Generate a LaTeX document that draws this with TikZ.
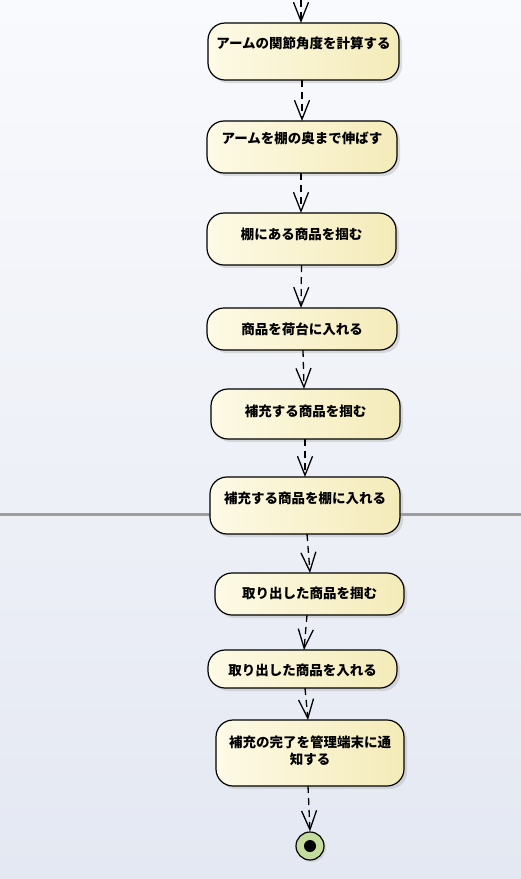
\documentclass[tikz,border=0pt]{standalone}
\usepackage{fontspec}
\setmainfont{Noto Sans CJK JP}
\usetikzlibrary{arrows.meta,shadows}
\definecolor{bgtop}{HTML}{F9FAFD}
\definecolor{bgbot}{HTML}{E4E8F2}
\definecolor{boxl}{HTML}{FDFAE6}
\definecolor{boxr}{HTML}{F4EBB9}
\definecolor{endfill}{HTML}{C4DD9C}
\tikzset{
  actbox/.style={draw=black, line width=1.2pt, rounded corners=17pt,
    left color=boxl, right color=boxr, inner sep=0pt, outer sep=0pt,
    drop shadow={shadow xshift=3pt, shadow yshift=-3pt, fill=black!35, opacity=0.35}},
  acttext/.style={font=\fontsize{13.5}{17.5}\selectfont\bfseries, align=center,
    inner sep=0pt, text=black},
  flow/.style={draw=black, line width=1.3pt, dash pattern=on 7pt off 5pt,
    -{Straight Barb[length=19pt,width=15pt,line width=1.3pt]}},
  partline/.style={draw=black!38, line width=3pt},
}
% box: name, left, top, right, bottom, text y, text
\newcommand{\actnode}[7]{%
  \pgfmathsetmacro{\bw}{#4-#2}\pgfmathsetmacro{\bh}{#5-#3}%
  \node[actbox, minimum width=\bw pt, minimum height=\bh pt] (#1)
    at ({(#2+#4)/2},{(#3+#5)/2}) {};
  \node[acttext] (#1-t) at ({(#2+#4)/2},#6) {#7};}
\begin{document}
\begin{tikzpicture}[x=1pt,y=-1pt]
  \useasboundingbox (0,0) rectangle (521,879);
  \shade[top color=bgtop, bottom color=bgbot] (0,0) rectangle (521,879);
  \coordinate (pl) at (0,514);
  \coordinate (pr) at (521,514);
  \draw[partline] (pl) -- (pr);

  \actnode{n1}{208}{23}{399}{80}{43}{アームの関節角度を計算する}
  \actnode{n2}{207}{121}{397}{173}{138}{アームを棚の奥まで伸ばす}
  \actnode{n3}{207}{213}{396}{265}{234}{棚にある商品を掴む}
  \actnode{n4}{207}{308}{397}{350}{329}{商品を荷台に入れる}
  \actnode{n5}{211}{389}{400}{439}{411}{補充する商品を掴む}
  \actnode{n6}{210}{477}{400}{534}{498}{補充する商品を棚に入れる}
  \actnode{n7}{215}{573}{404}{615}{593}{取り出した商品を掴む}
  \actnode{n8}{208}{650}{397}{688}{670}{取り出した商品を入れる}
  \actnode{n9}{216}{720}{404}{786}{751}{補充の完了を管理端末に通\\知する}

  \node[circle, draw=black, line width=1.2pt, fill=endfill, minimum size=28pt,
    inner sep=0pt, drop shadow={shadow xshift=2pt, shadow yshift=-2pt, fill=black!35, opacity=0.3}]
    (fin) at (310,846) {};
  \node[circle, fill=black, minimum size=12pt, inner sep=0pt] (fin-dot) at (fin.center) {};

  \coordinate (start) at (301,0);
  \draw[flow] (start) -- ([xshift=-2.5pt]n1.north);
  \draw[flow] ([xshift=-1.5pt]n1.south) -- (n2.north);
  \draw[flow] ([xshift=-1pt]n2.south) -- ([xshift=-0.5pt]n3.north);
  \draw[flow] (n3.south) -- ([xshift=-1pt]n4.north);
  \draw[flow] ([xshift=1pt]n4.south) -- ([xshift=-1.5pt]n5.north);
  \draw[flow] ([xshift=-0.5pt]n5.south) -- (n6.north);
  \draw[flow] ([xshift=2pt]n6.south) -- ([xshift=0.5pt]n7.north);
  \draw[flow] ([xshift=-2.5pt]n7.south) -- ([xshift=1.5pt]n8.north);
  \draw[flow] ([xshift=2.5pt]n8.south) -- ([xshift=-2pt]n9.north);
  \draw[flow] ([xshift=-2pt]n9.south) -- (fin.north);
\end{tikzpicture}
\end{document}
